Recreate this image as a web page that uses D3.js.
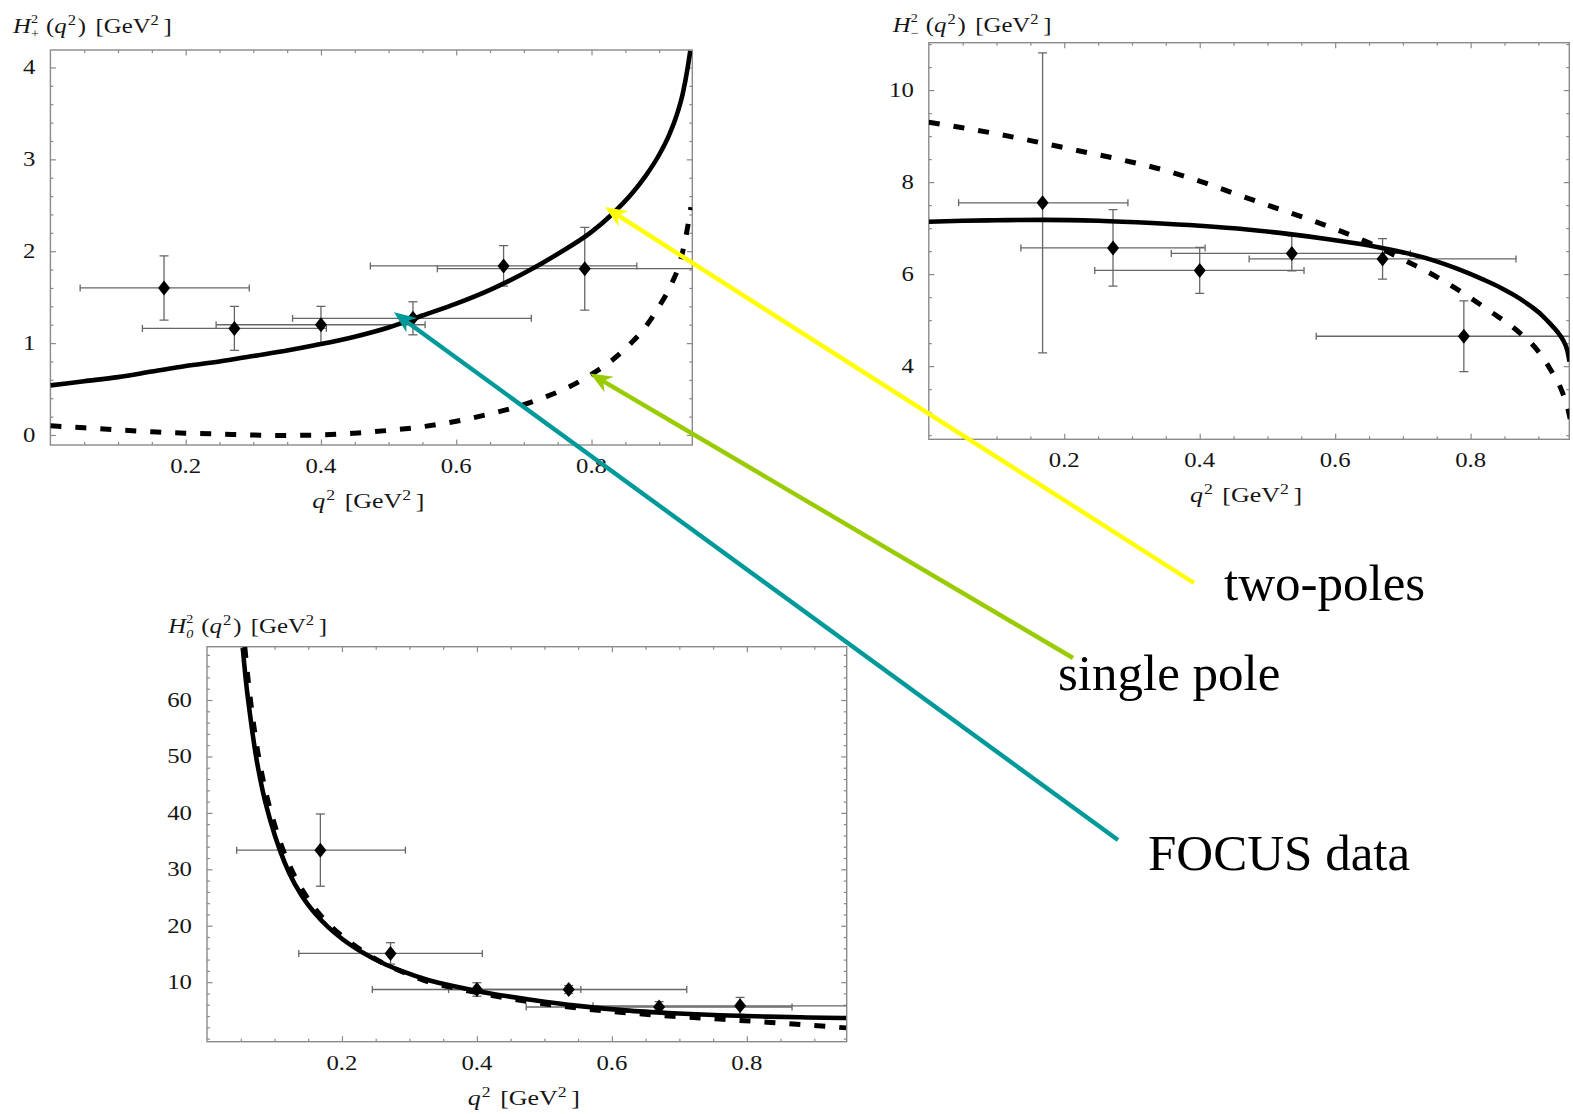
<!DOCTYPE html>
<html>
<head>
<meta charset="utf-8">
<script src="https://cdn.jsdelivr.net/npm/d3@7"></script>
<style>
  body { margin: 0; background: #fff; }
  text { font-family: "Liberation Serif", "Times New Roman", serif; }
</style>
</head>
<body>
<svg id="chart" width="1573" height="1114"></svg>
<script>
// ---- FOCUS q^2 bins (GeV^2): centre and horizontal extent of each bin ----
const q2Centre = [0.168, 0.272, 0.400, 0.536, 0.670, 0.790];
const q2Low    = [0.044, 0.136, 0.245, 0.358, 0.473, 0.572];
const q2High   = [0.294, 0.408, 0.554, 0.711, 0.867, 1.000];

// ---- measured helicity form factors with their errors ----
const hPlusData  = [1.60, 1.16, 1.20, 1.27, 1.84, 1.81];
const hPlusErr   = [0.35, 0.24, 0.20, 0.18, 0.22, 0.45];
const hMinusData = [7.55, 6.57, 6.08, 6.45, 6.33, 4.65];
const hMinusErr  = [3.26, 0.83, 0.50, 0.38, 0.44, 0.77];
const hZeroData  = [33.4, 15.1, 8.7, 8.7, 5.6, 5.8];
const hZeroErr   = [6.4, 1.9, 1.2, 0.7, 0.95, 1.5];

// ---- model curves [q^2, H^2] : two-pole (solid) and single-pole (dashed) ----
const hPlusTwoPole = [[0,0.54],[0.05,0.585],[0.1,0.63],[0.15,0.69],[0.2,0.75],[0.25,0.80],[0.3,0.86],
  [0.35,0.92],[0.4,0.99],[0.45,1.07],[0.5,1.17],[0.55,1.30],[0.6,1.43],[0.65,1.58],[0.7,1.76],
  [0.75,1.97],[0.8,2.21],[0.83,2.40],[0.86,2.63],[0.88,2.82],[0.9,3.05],[0.915,3.27],[0.925,3.46],
  [0.935,3.72],[0.942,3.99],[0.946,4.18]];
const hPlusSinglePole = [[0,0.10],[0.05,0.078],[0.1,0.055],[0.15,0.035],[0.2,0.02],[0.25,0.01],[0.3,0.0],
  [0.344,-0.005],[0.4,0.0],[0.45,0.02],[0.5,0.05],[0.55,0.09],[0.6,0.15],[0.65,0.23],[0.7,0.33],
  [0.734,0.42],[0.76,0.50],[0.8,0.66],[0.83,0.81],[0.857,0.99],[0.876,1.14],[0.9,1.40],[0.916,1.61],
  [0.933,1.94],[0.943,2.30],[0.947,2.48]];
const hMinusTwoPole = [[0,7.14],[0.05,7.16],[0.1,7.17],[0.17,7.18],[0.25,7.16],[0.33,7.11],[0.40,7.05],
  [0.47,6.97],[0.533,6.87],[0.59,6.76],[0.63,6.67],[0.669,6.57],[0.71,6.44],[0.745,6.30],[0.78,6.12],
  [0.819,5.88],[0.845,5.70],[0.868,5.51],[0.89,5.29],[0.905,5.11],[0.917,4.93],[0.928,4.75],
  [0.937,4.55],[0.943,4.33],[0.946,4.10]];
const hMinusSinglePole = [[0,9.30],[0.05,9.18],[0.1,9.05],[0.164,8.86],[0.228,8.66],[0.28,8.50],
  [0.35,8.25],[0.41,7.97],[0.45,7.76],[0.5,7.50],[0.55,7.25],[0.6,6.98],[0.65,6.68],[0.7,6.32],
  [0.745,5.98],[0.794,5.54],[0.83,5.18],[0.868,4.78],[0.9,4.32],[0.917,3.95],[0.935,3.45],
  [0.944,3.05],[0.947,2.85]];
const hZeroTwoPole = [[0.053,69.2],[0.058,63.0],[0.064,57.2],[0.072,50.5],[0.082,44.2],[0.094,38.6],
  [0.108,33.4],[0.122,29.3],[0.14,25.4],[0.16,22.2],[0.18,19.7],[0.20,17.7],[0.23,15.3],[0.26,13.4],
  [0.29,11.9],[0.33,10.3],[0.37,9.2],[0.42,8.0],[0.48,6.9],[0.55,5.8],[0.62,5.0],[0.69,4.5],
  [0.76,4.15],[0.83,3.9],[0.89,3.75],[0.947,3.65]];
const hZeroSinglePole = [[0.056,69.4],[0.061,63.5],[0.067,57.5],[0.075,51.0],[0.085,44.8],[0.097,39.2],
  [0.111,34.0],[0.125,30.0],[0.143,26.0],[0.163,22.6],[0.183,20.0],[0.203,17.9],[0.232,15.4],
  [0.262,13.3],[0.29,11.8],[0.33,10.0],[0.37,8.9],[0.42,7.7],[0.48,6.5],[0.55,5.4],[0.62,4.6],
  [0.69,3.95],[0.76,3.45],[0.83,2.9],[0.89,2.4],[0.947,1.9]];

// ---- axis ticks ----
const xMajorTicks = [0.2, 0.4, 0.6, 0.8];
const hPlusTicks  = [0, 1, 2, 3, 4];
const hMinusTicks = [4, 6, 8, 10];
const hZeroTicks  = [10, 20, 30, 40, 50, 60];

// ---- annotation labels pointing at the H+ panel ----
const annoLabels = ["two-poles", "single pole", "FOCUS data"];
const annoColors = ["#ffff00", "#99cc00", "#009999"];
const annoTips   = [[0.820, 2.48], [0.798, 0.67], [0.508, 1.335]];   // in H+ data coordinates

// ---------------------------------------------------------------------------
const svg = d3.select("#chart");
const STRETCH = 1.18;           // horizontally widened text of the plot frames
const FRAME = "#8a8a8a";
const ERRC = "#666";

const panels = [
  { key: "plus", left: 50.4, right: 692.3, top: 50, bottom: 445, xMax: 0.949,
    yDomain: [-0.109, 4.19], yTicks: hPlusTicks, yMinorStep: 0.2,
    title: { x: 13, y: 33, sub: "+", subItalic: false },
    vals: hPlusData, errs: hPlusErr, two: hPlusTwoPole, one: hPlusSinglePole },
  { key: "minus", left: 928.8, right: 1569.3, top: 42.7, bottom: 439.3, xMax: 0.9457,
    yDomain: [2.41, 11.03], yTicks: hMinusTicks, yMinorStep: 0.5,
    title: { x: 892.7, y: 31.7, sub: "\u2212", subItalic: false },
    vals: hMinusData, errs: hMinusErr, two: hMinusTwoPole, one: hMinusSinglePole },
  { key: "zero", left: 207.0, right: 846.7, top: 646.7, bottom: 1041.7, xMax: 0.948,
    yDomain: [-0.55, 69.45], yTicks: hZeroTicks, yMinorStep: 2,
    title: { x: 168.3, y: 633.3, sub: "0", subItalic: true },
    vals: hZeroData, errs: hZeroErr, two: hZeroTwoPole, one: hZeroSinglePole }
];

function stepsIn(step, lo, hi) {
  const out = [];
  for (let i = Math.ceil(lo / step - 1e-9); i * step <= hi + 1e-9; i++) out.push(+(i * step).toFixed(6));
  return out;
}

// stretched text helper
function sText(g, x, y, size, anchor) {
  return g.append("text")
    .attr("transform", `translate(${x},${y}) scale(${STRETCH},1)`)
    .attr("font-size", size)
    .attr("text-anchor", anchor || "start")
    .attr("fill", "#151515");
}

const scales = {};

panels.forEach(p => {
  const g = svg.append("g").attr("class", "panel-" + p.key);
  const x = d3.scaleLinear().domain([0, p.xMax]).range([p.left, p.right]);
  const y = d3.scaleLinear().domain(p.yDomain).range([p.bottom, p.top]);
  scales[p.key] = { x, y };

  const clipId = "clip-" + p.key;
  svg.append("defs").append("clipPath").attr("id", clipId)
    .append("rect").attr("x", p.left).attr("y", p.top)
    .attr("width", p.right - p.left).attr("height", p.bottom - p.top);

  // frame ticks on all four sides, pointing inwards
  const xMinor = stepsIn(0.05, 0.001, p.xMax - 0.001).filter(v => !xMajorTicks.some(m => Math.abs(m - v) < 1e-6));
  const yMinor = stepsIn(p.yMinorStep, p.yDomain[0], p.yDomain[1]).filter(v => !p.yTicks.includes(v));
  [[d3.axisBottom(x), `translate(0,${p.bottom})`], [d3.axisTop(x), `translate(0,${p.top})`]].forEach(([ax, tr]) => {
    g.append("g").attr("transform", tr).call(ax.tickValues(xMajorTicks).tickSize(-5.5).tickFormat(""));
    g.append("g").attr("transform", tr).call(ax.tickValues(xMinor).tickSize(-3).tickFormat(""));
  });
  [[d3.axisLeft(y), `translate(${p.left},0)`], [d3.axisRight(y), `translate(${p.right},0)`]].forEach(([ax, tr]) => {
    g.append("g").attr("transform", tr).call(ax.tickValues(p.yTicks).tickSize(-5.5).tickFormat(""));
    g.append("g").attr("transform", tr).call(ax.tickValues(yMinor).tickSize(-3).tickFormat(""));
  });
  g.selectAll(".domain").remove();
  g.selectAll(".tick line").attr("stroke", FRAME).attr("stroke-width", 1.2);

  g.append("rect").attr("x", p.left).attr("y", p.top)
    .attr("width", p.right - p.left).attr("height", p.bottom - p.top)
    .attr("fill", "none").attr("stroke", FRAME).attr("stroke-width", 1.4);

  // tick labels
  xMajorTicks.forEach(v => sText(g, x(v), p.bottom + 28, 21, "middle").text(d3.format(".1f")(v)));
  p.yTicks.forEach(v => sText(g, p.left - 15, y(v) + 7, 21, "end").text(v));

  // vertical axis title  H^2_s(q^2) [GeV^2]: stacked super/subscript drawn as separate pieces
  const tx0 = p.title.x, ty0 = p.title.y;
  sText(g, tx0, ty0, 21).attr("font-style", "italic").text("H");
  sText(g, tx0 + 18, ty0 - 10, 12).text("2");
  sText(g, tx0 + 18, ty0 + 5, 12).attr("font-style", p.title.subItalic ? "italic" : "normal").text(p.title.sub);
  const t = sText(g, tx0 + 33, ty0, 21);
  t.append("tspan").text("(");
  t.append("tspan").attr("font-style", "italic").text("q");
  t.append("tspan").attr("font-size", 14).attr("dx", 1).attr("dy", -8).text("2");
  t.append("tspan").attr("dx", 1.5).attr("dy", 8).text(")");
  t.append("tspan").attr("dx", 8).text("[GeV");
  t.append("tspan").attr("font-size", 14).attr("dy", -8).text("2");
  t.append("tspan").attr("dx", 4).attr("dy", 8).text("]");

  // horizontal axis title  q^2 [GeV^2]
  const xt = sText(g, (p.left + p.right) / 2 - 3, p.bottom + 63, 22, "middle");
  xt.append("tspan").attr("font-style", "italic").text("q");
  xt.append("tspan").attr("font-size", 15).attr("dx", 1).attr("dy", -8).text("2");
  xt.append("tspan").attr("dx", 8).attr("dy", 8).text("[GeV");
  xt.append("tspan").attr("font-size", 15).attr("dy", -8).text("2");
  xt.append("tspan").attr("dx", 4).attr("dy", 8).text("]");

  const inner = g.append("g").attr("clip-path", `url(#${clipId})`);

  // error bars
  const pts = q2Centre.map((q, i) => ({ q, lo: q2Low[i], hi: q2High[i], v: p.vals[i], e: p.errs[i] }));
  const eb = inner.append("g").attr("stroke", ERRC).attr("stroke-width", 1.3).attr("fill", "none");
  pts.forEach(d => {
    const cy = y(d.v);
    eb.append("line").attr("x1", x(d.lo)).attr("x2", x(d.hi)).attr("y1", cy).attr("y2", cy);
    [d.lo, d.hi].forEach(e => eb.append("line").attr("x1", x(e)).attr("x2", x(e)).attr("y1", cy - 3.5).attr("y2", cy + 3.5));
    eb.append("line").attr("x1", x(d.q)).attr("x2", x(d.q)).attr("y1", y(d.v - d.e)).attr("y2", y(d.v + d.e));
    [d.v - d.e, d.v + d.e].forEach(e => eb.append("line").attr("x1", x(d.q) - 4.5).attr("x2", x(d.q) + 4.5).attr("y1", y(e)).attr("y2", y(e)));
  });

  // model curves
  const line = d3.line().x(d => x(d[0])).y(d => y(d[1])).curve(d3.curveMonotoneX);
  inner.append("path").datum(p.one).attr("d", line).attr("fill", "none")
    .attr("stroke", "#000").attr("stroke-width", 5).attr("stroke-dasharray", "11 14");
  inner.append("path").datum(p.two).attr("d", line).attr("fill", "none")
    .attr("stroke", "#000").attr("stroke-width", 4.6);

  // data points (diamonds)
  inner.selectAll("path.pt").data(pts).enter().append("path").attr("class", "pt")
    .attr("d", d => { const cx = x(d.q), cy = y(d.v); return `M${cx},${cy - 7.5}L${cx + 6},${cy}L${cx},${cy + 7.5}L${cx - 6},${cy}Z`; })
    .attr("fill", "#000");
});

// ---- annotations: coloured arrows from the labels to the H+ panel ----
const annoText  = [[1224, 600], [1058, 690], [1148, 870]];
const annoTails = [[1194, 583], [1073, 658], [1118, 840]];
const ann = svg.append("g");
annoLabels.forEach((lab, i) => {
  const tx = scales.plus.x(annoTips[i][0]), ty = scales.plus.y(annoTips[i][1]);
  const [sx, sy] = annoTails[i];
  const ang = Math.atan2(ty - sy, tx - sx);
  const back = 15;
  ann.append("line").attr("x1", sx).attr("y1", sy)
    .attr("x2", tx - back * Math.cos(ang)).attr("y2", ty - back * Math.sin(ang))
    .attr("stroke", annoColors[i]).attr("stroke-width", 4.4);
  ann.append("path").attr("d", "M0,0L-22,-9L-15,0L-22,9Z")
    .attr("transform", `translate(${tx},${ty}) rotate(${ang * 180 / Math.PI})`)
    .attr("fill", annoColors[i]);
  ann.append("text").attr("x", annoText[i][0]).attr("y", annoText[i][1])
    .attr("font-size", 51).attr("fill", "#000").text(lab);
});
</script>
</body>
</html>
